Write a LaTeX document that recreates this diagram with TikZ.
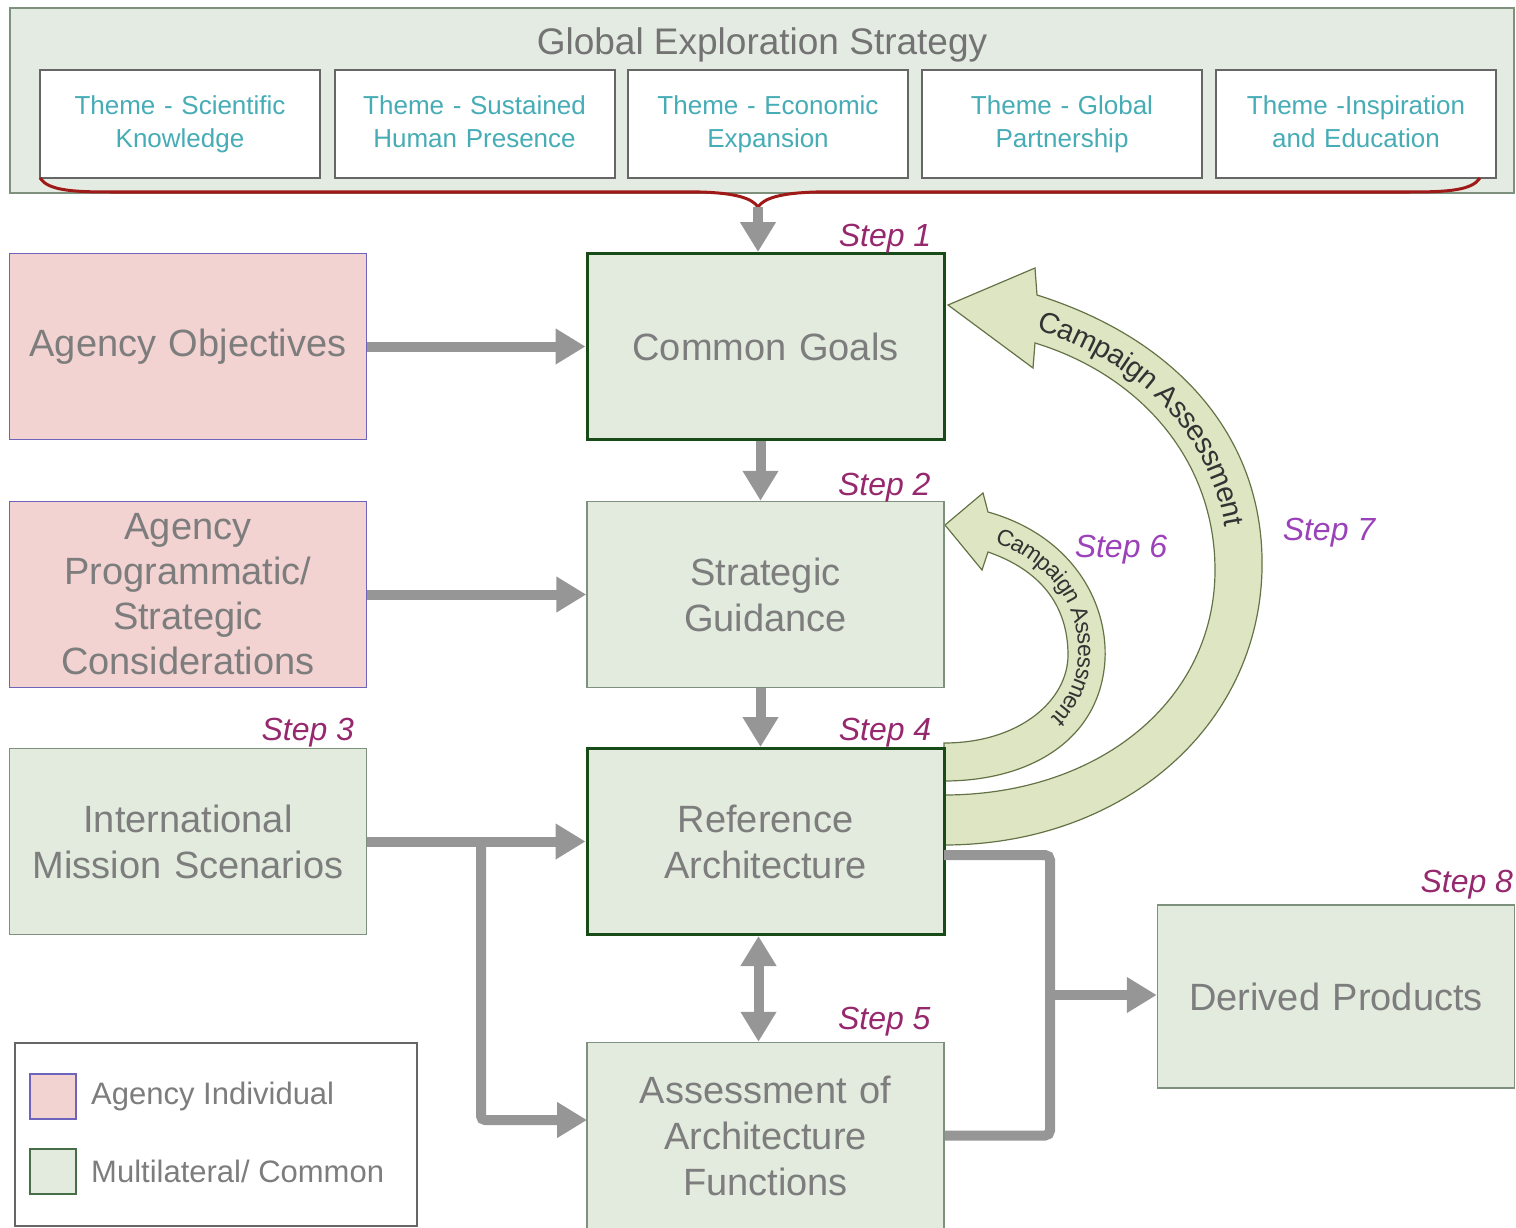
\documentclass[tikz,border=0pt]{standalone}
\usepackage{fontspec}
\setmainfont{Liberation Sans}
\usetikzlibrary{arrows.meta, positioning, calc, decorations.text}

\definecolor{boxgreen}{RGB}{226,235,222}
\definecolor{boxpink}{RGB}{243,210,210}
\definecolor{darkgreen}{RGB}{25,75,25}
\definecolor{thingreen}{RGB}{125,145,125}
\definecolor{pinkedge}{RGB}{110,100,190}
\definecolor{txtgray}{RGB}{125,125,125}
\definecolor{themeteal}{RGB}{70,172,182}
\definecolor{flowgray}{RGB}{150,150,150}
\definecolor{bandfill}{RGB}{222,229,195}
\definecolor{bandedge}{RGB}{100,115,70}
\definecolor{stepmag}{RGB}{150,40,110}
\definecolor{stepvio}{RGB}{155,65,185}
\definecolor{bracered}{RGB}{160,25,25}
\definecolor{gesfill}{RGB}{228,235,226}

\tikzset{
  box/.style={draw=thingreen, fill=boxgreen, line width=1.5pt, minimum width=357pt,
    minimum height=186pt, text width=340pt, align=center, text=txtgray,
    font=\fontsize{38}{46}\selectfont, inner sep=0pt},
  keybox/.style={box, draw=darkgreen, line width=3pt},
  agencybox/.style={box, draw=pinkedge, fill=boxpink},
  themebox/.style={draw=black!60, fill=white, line width=2pt, minimum width=280pt,
    minimum height=108pt, text width=270pt, align=center, text=themeteal,
    font=\fontsize{26}{33}\selectfont, inner sep=0pt,
    execute at begin node=\strut, execute at end node=\strut},
  steplbl/.style={font=\fontsize{32}{32}\selectfont\itshape, text=stepmag,
    inner sep=0pt, anchor=base east},
  flow/.style={draw=flowgray, line width=10pt, -{Triangle[length=30pt,width=34pt]}},
  link/.style={draw=flowgray, line width=10pt, rounded corners=5pt},
  band/.style={fill=bandfill, draw=bandedge, line width=1.2pt},
  swatch/.style={minimum width=46pt, minimum height=45pt, line width=2pt, inner sep=0pt},
  legtext/.style={anchor=west, text=txtgray, font=\fontsize{31}{31}\selectfont, inner sep=0pt}
}

\begin{document}
\begin{tikzpicture}[x=1pt, y=-1pt]
    \useasboundingbox (0,0) rectangle (1516,1228);

    % strategy frame and themes
    \filldraw[fill=gesfill, draw=thingreen, line width=2pt] (10,8) rectangle (1514,193);
    \node[text=black!55, font=\fontsize{37}{37}\selectfont] (ges) at (762,45) {Global Exploration Strategy};

    \node[themebox] (t1) at (180,124) {Theme - Scientific\\Knowledge};
    \node[themebox] (t2) at (474.5,124) {Theme - Sustained\\Human Presence};
    \node[themebox] (t3) at (768,124) {Theme - Economic\\Expansion};
    \node[themebox] (t4) at (1062,124) {Theme - Global\\Partnership};
    \node[themebox] (t5) at (1356,124) {Theme -Inspiration\\and Education};

    \coordinate (bt) at (758,207);
    \draw[bracered, line width=3pt] (40,178) .. controls (48,190) and (70,192) .. (110,192)
        -- (700,192) .. controls (735,193) and (752,198) .. (bt)
        .. controls (764,198) and (781,193) .. (816,192)
        -- (1410,192) .. controls (1450,192) and (1472,190) .. (1480,178);

    % assessment loops
    \filldraw[band] (944,795) .. controls (1100,795) and (1215,700) .. (1215,570)
        .. controls (1215,460) and (1140,375) .. (1035,343)
        -- (1033,368) -- (948,305) -- (1035,268) -- (1037,295)
        .. controls (1180,340) and (1265,440) .. (1262,570)
        .. controls (1258,730) and (1120,845) .. (944,845) -- cycle;
    \filldraw[band] (944,743) .. controls (1020,743) and (1068,700) .. (1068,655)
        .. controls (1068,605) and (1040,570) .. (988,552)
        -- (982,570) -- (945,525) -- (983,493) -- (988,512)
        .. controls (1070,535) and (1108,600) .. (1105,660)
        .. controls (1100,740) and (1030,781) .. (944,781) -- cycle;

    \path[decorate, decoration={text along path, text align={left indent=4pt}, raise=-10pt,
        text={|\fontsize{29}{29}\selectfont\color{black!80}|Campaign Assessment}}]
        (1036,319) .. controls (1160,357) and (1240,450) .. (1238,570)
        .. controls (1236,720) and (1110,820) .. (944,820);
    \path[decorate, decoration={text along path, text align={left indent=10pt}, raise=-8pt,
        text={|\fontsize{23}{23}\selectfont\color{black!80}|Campaign Assessment}}]
        (988,532) .. controls (1055,552) and (1089,602) .. (1086,657)
        .. controls (1084,720) and (1025,762) .. (944,762);

    % boxes
    \node[keybox] (cg) at (765.5,346.5) {Common Goals};
    \node[box] (sg) at (765.5,594.5) {Strategic\\Guidance};
    \node[keybox] (ra) at (765.5,841.5) {Reference\\Architecture};
    \node[box] (aaf) at (765.5,1135.5) {Assessment of\\Architecture\\Functions};
    \node[agencybox] (ao) at (188,346.5) {Agency Objectives};
    \node[agencybox, font=\fontsize{38}{45}\selectfont] (apc) at (188,594.5) {Agency\\Programmatic/\\Strategic\\Considerations};
    \node[box] (ims) at (188,841.5) {International\\Mission Scenarios};
    \node[box, minimum height=183pt] (dp) at (1336,996.5) {Derived Products};

    % steps
    \node[steplbl] (s1) at ($(cg.north east)+(-14,-6)$) {Step 1};
    \node[steplbl] (s2) at ($(sg.north east)+(-14,-5)$) {Step 2};
    \node[steplbl] (s3) at ($(ims.north east)+(-13,-7)$) {Step 3};
    \node[steplbl] (s4) at ($(ra.north east)+(-14,-7)$) {Step 4};
    \node[steplbl] (s5) at ($(aaf.north east)+(-14,-12)$) {Step 5};
    \node[steplbl, text=stepvio, anchor=center] (s6) at (1121,550) {Step 6};
    \node[steplbl, text=stepvio, anchor=center] (s7) at (1329,533) {Step 7};
    \node[steplbl] (s8) at ($(dp.north east)+(-2,-12)$) {Step 8};

    % connectors
    \coordinate (br) at (481,841.5);
    \coordinate (aafin) at (587,1120);
    \coordinate (raout) at (944,855);
    \coordinate (jr) at (1050,995);

    \draw[flow] (bt) -- (bt |- cg.north);
    \draw[flow] (ao) -- (cg);
    \draw[flow] (apc) -- (sg);
    \draw[flow] ($(cg.south)+(-5,0)$) -- ($(sg.north)+(-5,0)$);
    \draw[flow] ($(sg.south)+(-5,0)$) -- ($(ra.north)+(-5,0)$);
    \draw[flow] (ims) -- (ra);
    \draw[flow, rounded corners=4pt] (br) |- (aafin);
    \draw[flow, {Triangle[length=30pt,width=34pt]}-{Triangle[length=30pt,width=34pt]}]
        ($(ra.south)+(-7,0)$) -- ($(aaf.north)+(-7,0)$);
    \draw[link] (raout) -| (jr) |- (aaf.east);
    \draw[flow] (jr) -- (jr -| dp.west);

    % legend
    \filldraw[fill=white, draw=black!60, line width=2pt] (15,1043) rectangle (417,1226);
    \node[swatch, draw=pinkedge, fill=boxpink] (kp) at (53,1096) {};
    \node[swatch, draw=darkgreen!80, fill=boxgreen] (kg) at (53,1171) {};
    \node[legtext, right=14pt of kp] (kpt) {Agency Individual};
    \node[legtext, right=14pt of kg] (kgt) {Multilateral/ Common};

\end{tikzpicture}
\end{document}
